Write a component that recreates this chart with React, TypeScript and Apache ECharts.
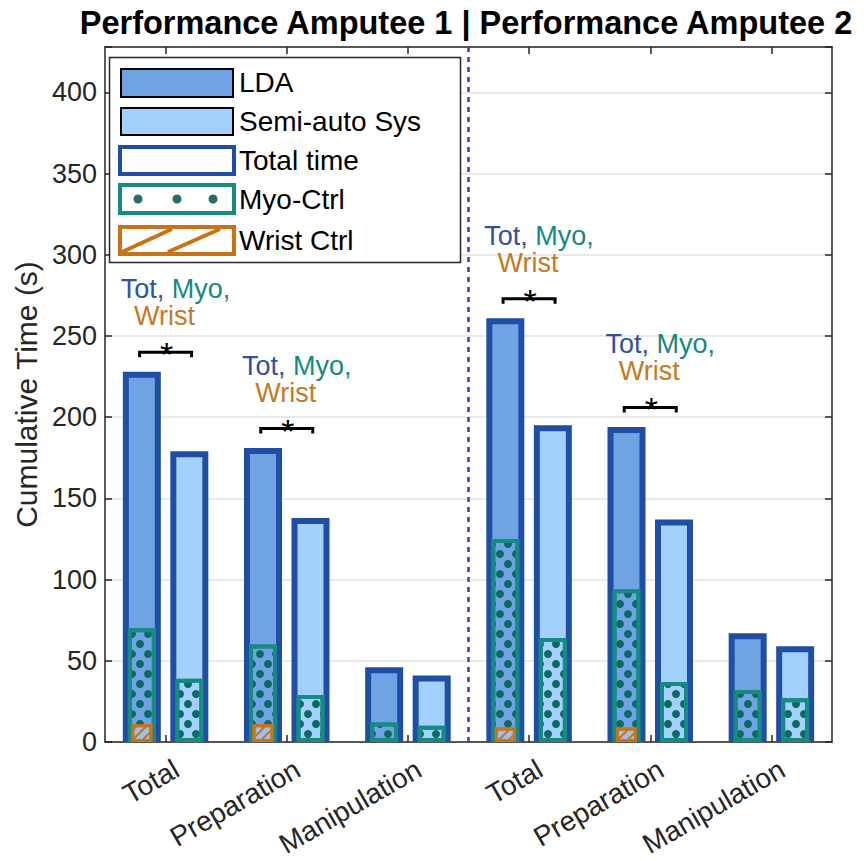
import React, { useEffect, useRef } from 'react';
import * as echarts from 'echarts';

const categories = ['Total', 'Preparation', 'Manipulation', 'Total', 'Preparation', 'Manipulation'];
const ldaTotal = [228, 181, 46, 261, 194, 67];
const semiTotal = [179, 138, 41, 195, 137, 59];
const ldaMyo = [70, 60, 12, 125, 94, 32];
const semiMyo = [39, 29, 10, 64, 37, 27];
const ldaWrist = [11, 11, null, 9, 9, null];
const semiWrist = [null, null, null, null, null, null];
// [category index, height of the significance bracket]
const sigBrackets = [
  [0, 240],
  [1, 193],
  [3, 273],
  [4, 206],
];
// divider between the two amputees: between category 2 and category 3
const dividerBetween = [[2, 3]];
const yMin = 0;
const yMax = 428;
const yStep = 50;
const titleText = 'Performance Amputee 1 | Performance Amputee 2';
const legendLabels = ['LDA', 'Semi-auto Sys', 'Total time', 'Myo-Ctrl', 'Wrist Ctrl'];

const FONT = '"Liberation Sans", Arial, Helvetica, sans-serif';
const C_LDA = '#6fa3e4';
const C_SEMI = '#a3d0fd';
const C_TOTAL = '#1f4fa5';
const C_MYO = '#178a84';
const C_DOT = '#0b6b60';
const C_WRIST = '#c97318';
const C_TEXT = '#262626';

const dotDecal = {
  symbol: 'circle',
  symbolSize: 1,
  color: C_DOT,
  dashArrayX: [
    [8, 8],
    [0, 8, 8, 0],
  ],
  dashArrayY: [8, 2],
};
const hatchDecal = {
  symbol: 'rect',
  symbolSize: 1,
  color: C_WRIST,
  dashArrayX: [1, 0],
  dashArrayY: [2, 5],
  rotation: -Math.PI / 4,
};

export default function App() {
  const ref = useRef<HTMLDivElement>(null);
  useEffect(() => {
    if (!ref.current) return;
    const chart = echarts.init(ref.current, null, { renderer: 'svg' });

    const catAxis = (extra: any) => ({
      type: 'category',
      data: categories,
      gridIndex: 0,
      ...extra,
    });

    const legendY = [82.5, 121.5, 160, 199, 240];
    const legendGraphic: any[] = [
      {
        type: 'rect',
        z: 100,
        shape: { x: 109.5, y: 57.5, width: 351, height: 205 },
        style: { fill: '#fff', stroke: C_TEXT, lineWidth: 1.5 },
      },
      {
        type: 'rect',
        z: 101,
        shape: { x: 121, y: 69, width: 112, height: 28 },
        style: { fill: C_LDA, stroke: '#000', lineWidth: 2 },
      },
      {
        type: 'rect',
        z: 101,
        shape: { x: 121, y: 108, width: 112, height: 27 },
        style: { fill: C_SEMI, stroke: '#000', lineWidth: 2 },
      },
      {
        type: 'rect',
        z: 101,
        shape: { x: 120, y: 147, width: 114, height: 27 },
        style: { fill: '#fff', stroke: C_TOTAL, lineWidth: 4 },
      },
      {
        type: 'rect',
        z: 101,
        shape: { x: 120, y: 185, width: 114, height: 28 },
        style: { fill: '#fff', stroke: C_MYO, lineWidth: 4 },
      },
      ...[138, 177, 213].map((cx) => ({
        type: 'circle',
        z: 102,
        shape: { cx, cy: 199, r: 4.5 },
        style: { fill: '#2c6b6b' },
      })),
      {
        type: 'rect',
        z: 101,
        shape: { x: 120, y: 227, width: 114, height: 27 },
        style: { fill: '#fff', stroke: C_WRIST, lineWidth: 4 },
      },
      {
        type: 'line',
        z: 102,
        shape: { x1: 122, y1: 252, x2: 172, y2: 229 },
        style: { stroke: C_WRIST, lineWidth: 4 },
      },
      {
        type: 'line',
        z: 102,
        shape: { x1: 168, y1: 252, x2: 220, y2: 229 },
        style: { stroke: C_WRIST, lineWidth: 4 },
      },
      ...legendLabels.map((t, i) => ({
        type: 'text',
        z: 102,
        x: 239,
        y: legendY[i],
        style: {
          text: t,
          font: `28px ${FONT}`,
          fill: '#000',
          textAlign: 'left',
          textVerticalAlign: 'middle',
        },
      })),
      {
        type: 'text',
        x: 466,
        y: 23,
        style: {
          text: titleText,
          font: `bold 32.5px ${FONT}`,
          fill: '#000',
          textAlign: 'center',
          textVerticalAlign: 'middle',
        },
      },
    ];

    const option: any = {
      animation: false,
      backgroundColor: '#fff',
      grid: { left: 105, right: 32, top: 47, bottom: 119, containLabel: false },
      xAxis: [
        catAxis({
          position: 'bottom',
          axisLine: { show: true, lineStyle: { color: C_TEXT, width: 1.5 } },
          axisTick: { show: true, inside: true, alignWithLabel: true, length: 7, lineStyle: { color: C_TEXT, width: 1.5 } },
          axisLabel: { show: false },
          splitLine: { show: false },
        }),
        catAxis({ show: false }),
        catAxis({ show: false }),
        catAxis({
          position: 'top',
          axisLine: { show: true, lineStyle: { color: C_TEXT, width: 1.5 } },
          axisTick: { show: true, inside: true, alignWithLabel: true, length: 7, lineStyle: { color: C_TEXT, width: 1.5 } },
          axisLabel: { show: false },
          splitLine: { show: false },
        }),
      ],
      yAxis: [
        {
          type: 'value',
          min: yMin,
          max: yMax,
          interval: yStep,
          position: 'left',
          name: 'Cumulative Time (s)',
          nameLocation: 'middle',
          nameGap: 64,
          nameTextStyle: { fontSize: 30, color: C_TEXT, fontFamily: FONT },
          axisLine: { show: true, lineStyle: { color: C_TEXT, width: 1.5 } },
          axisTick: { show: true, inside: true, length: 7, lineStyle: { color: C_TEXT, width: 1.5 } },
          axisLabel: {
            fontSize: 27,
            color: C_TEXT,
            fontFamily: FONT,
            margin: 8,
            formatter: (v: number) => (v % yStep === 0 ? String(v) : ''),
          },
          splitLine: { show: true, lineStyle: { color: '#e3e3e3', width: 1.5 } },
        },
        {
          type: 'value',
          min: yMin,
          max: yMax,
          interval: yStep,
          position: 'right',
          axisLine: { show: true, lineStyle: { color: C_TEXT, width: 1.5 } },
          axisTick: { show: true, inside: true, length: 7, lineStyle: { color: C_TEXT, width: 1.5 } },
          axisLabel: { show: false },
          splitLine: { show: false },
        },
      ],
      series: [
        {
          name: 'divider',
          type: 'custom',
          xAxisIndex: 0,
          yAxisIndex: 0,
          z: 1,
          silent: true,
          data: dividerBetween,
          renderItem: (params: any, api: any) => {
            const a = api.coord([api.value(0), 0])[0];
            const b = api.coord([api.value(1), 0])[0];
            const x = (a + b) / 2;
            const cs = params.coordSys;
            return {
              type: 'line',
              shape: { x1: x, y1: cs.y, x2: x, y2: cs.y + cs.height },
              style: { stroke: '#3b3bcc', lineWidth: 2.5, lineDash: [5, 5] },
            };
          },
        },
        {
          name: 'LDA',
          type: 'bar',
          xAxisIndex: 0,
          yAxisIndex: 0,
          data: ldaTotal,
          barWidth: 38,
          barGap: '25%',
          z: 2,
          itemStyle: { color: C_LDA, borderColor: C_TOTAL, borderWidth: 6 },
        },
        {
          name: 'Semi-auto Sys',
          type: 'bar',
          xAxisIndex: 0,
          yAxisIndex: 0,
          data: semiTotal,
          barWidth: 38,
          barGap: '25%',
          z: 2,
          itemStyle: { color: C_SEMI, borderColor: C_TOTAL, borderWidth: 6 },
        },
        {
          name: 'Myo-Ctrl LDA',
          type: 'bar',
          xAxisIndex: 1,
          yAxisIndex: 0,
          data: ldaMyo,
          barWidth: 28,
          barGap: '69.643%',
          z: 3,
          itemStyle: { color: C_LDA, borderColor: C_MYO, borderWidth: 4, decal: dotDecal },
        },
        {
          name: 'Myo-Ctrl Semi',
          type: 'bar',
          xAxisIndex: 1,
          yAxisIndex: 0,
          data: semiMyo,
          barWidth: 28,
          barGap: '69.643%',
          z: 3,
          itemStyle: { color: C_SEMI, borderColor: C_MYO, borderWidth: 4, decal: dotDecal },
        },
        {
          name: 'Wrist Ctrl LDA',
          type: 'bar',
          xAxisIndex: 2,
          yAxisIndex: 0,
          data: ldaWrist,
          barWidth: 21,
          barGap: '126.19%',
          z: 4,
          itemStyle: { color: '#9cc0ec', borderColor: C_WRIST, borderWidth: 3, decal: hatchDecal },
        },
        {
          name: 'Wrist Ctrl Semi',
          type: 'bar',
          xAxisIndex: 2,
          yAxisIndex: 0,
          data: semiWrist,
          barWidth: 21,
          barGap: '126.19%',
          z: 4,
          itemStyle: { color: '#9cc0ec', borderColor: C_WRIST, borderWidth: 3, decal: hatchDecal },
        },
        {
          name: 'categoryLabels',
          type: 'custom',
          xAxisIndex: 0,
          yAxisIndex: 0,
          z: 5,
          silent: true,
          clip: false,
          data: categories.map((_, i) => [i, 0]),
          renderItem: (params: any, api: any) => {
            const idx = api.value(0);
            const p = api.coord([idx, 0]);
            return {
              type: 'text',
              x: p[0] + 11,
              y: p[1] + 25,
              rotation: Math.PI / 6,
              style: {
                text: categories[params.dataIndex],
                font: `28px ${FONT}`,
                fill: C_TEXT,
                textAlign: 'right',
                textVerticalAlign: 'middle',
              },
            };
          },
        },
        {
          name: 'significance',
          type: 'custom',
          xAxisIndex: 0,
          yAxisIndex: 0,
          z: 10,
          silent: true,
          clip: false,
          data: sigBrackets,
          renderItem: (params: any, api: any) => {
            const p = api.coord([api.value(0), api.value(1)]);
            const cx = p[0];
            const cy = p[1];
            const h = 26;
            return {
              type: 'group',
              children: [
                {
                  type: 'polyline',
                  shape: {
                    points: [
                      [cx - h, cy + 5],
                      [cx - h, cy],
                      [cx + h, cy],
                      [cx + h, cy + 5],
                    ],
                  },
                  style: { stroke: '#000', lineWidth: 3, fill: null },
                },
                {
                  type: 'text',
                  x: cx + 1,
                  y: cy + 2,
                  style: {
                    text: '*',
                    font: `34px ${FONT}`,
                    fill: '#000',
                    textAlign: 'center',
                    textVerticalAlign: 'middle',
                  },
                },
                {
                  type: 'text',
                  x: cx + 10,
                  y: cy - 49.5,
                  style: {
                    text: '{t|Tot,} {m|Myo,}\n{w|Wrist}',
                    font: `27px ${FONT}`,
                    fill: '#2f52a0',
                    textAlign: 'center',
                    textVerticalAlign: 'middle',
                    lineHeight: 27,
                    rich: {
                      t: { fill: '#2f52a0', fontSize: 27, fontFamily: FONT, lineHeight: 27 },
                      m: { fill: '#16897f', fontSize: 27, fontFamily: FONT, lineHeight: 27 },
                      w: {
                        fill: '#c47a25',
                        fontSize: 27,
                        fontFamily: FONT,
                        lineHeight: 27,
                        padding: [0, 22, 0, 0],
                      },
                    },
                  },
                },
              ],
            };
          },
        },
      ],
      graphic: legendGraphic,
    };

    chart.setOption(option);
    return () => {
      chart.dispose();
    };
  }, []);

  return (
    <div
      ref={ref}
      style={{ position: 'fixed', left: 0, top: 0, width: 864, height: 861, background: '#fff' }}
    />
  );
}
